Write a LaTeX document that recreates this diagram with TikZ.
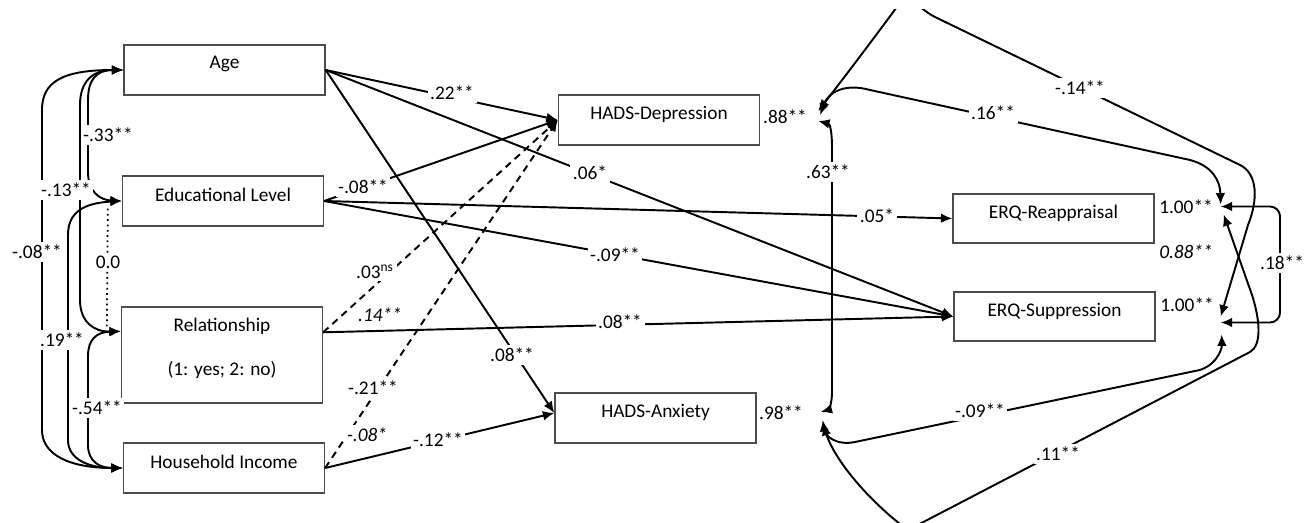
\documentclass[tikz,border=0pt]{standalone}
\usepackage{fontspec}
\setmainfont{Carlito}
\usetikzlibrary{arrows.meta,calc}
\begin{document}
\begin{tikzpicture}[x=0.02cm,y=-0.02cm,font=\fontsize{11}{13}\selectfont,
	>={Latex[length=6.5pt,width=5.5pt]},
	box/.style={draw=black!70,line width=0.8pt,minimum width=4.02cm,minimum height=#1,inner sep=0pt},
	box/.default=1cm,
	coef/.style={fill=white,inner sep=1.5pt},
	reg/.style={->,line width=1.1pt},
	cov/.style={<->,line width=1.1pt}]
	\useasboundingbox (0,0) rectangle (1310,523);
	\foreach \n/\x/\y/\h/\t in {Age/224.5/70/1cm/Age, Edu/223/201/1cm/Educational Level,
		Rel/222/355/1.92cm/Relationship, Inc/224/468/1cm/Household Income,
		Dep/659/120/1cm/HADS-Depression, Anx/655.5/418/1cm/HADS-Anxiety,
		Rea/1053.5/218.5/0.98cm/ERQ-Reappraisal, Sup/1054.5/316.5/0.98cm/ERQ-Suppression}{
		\node[box=\h] (\n) at (\x,\y) {};
		\node[inner sep=0pt] (\n_t) at ($(\n.north)+(0,20)$) {\t};
	}
	\node[inner sep=0pt] (Rel_t2) at ($(Rel.north)+(0,64)$) {(1: yes; 2: no)};
	\path ($(Rel.north west)+(0,25)$) coordinate (Rel_i)
		($(Rel.north east)+(0,26)$) coordinate (Rel_o)
		($(Anx.west)+(0,-5)$) coordinate (Anx_i)
		($(Dep.east)+(58,-3)$) coordinate (Dep_e)
		($(Anx.east)+(64,-2)$) coordinate (Anx_e)
		($(Rea.east)+(66,-12)$) coordinate (Rea_e)
		($(Sup.east)+(65,6)$) coordinate (Sup_e);
	\foreach \a/\b in {Age.east/Dep.west, Age.east/Sup.west, Age.east/Anx_i, Edu.east/Dep.west,
		Edu.east/Rea.west, Edu.east/Sup.west, Rel_o/Sup.west, Inc.east/Anx_i}
		\draw[reg] (\a) -- (\b);
	\foreach \a in {Rel_o, Inc.east}
		\draw[reg,dash pattern=on 4pt off 3pt] (\a) -- (Dep.west);
	\draw[cov] (Age.west) .. controls (96,70) and (88,80) .. (88,100) -- (88,172) .. controls (88,192) and (100,200) .. (Edu.west);
	\draw[cov] (Age.west) .. controls (92,70) and (80,82) .. (80,105) -- (80,300) .. controls (80,322) and (94,332) .. (Rel_i);
	\draw[cov] (Age.west) .. controls (62,70) and (42,82) .. (42,110) -- (42,430) .. controls (42,455) and (70,468) .. (Inc.west);
	\draw[cov] (Edu.west) .. controls (84,203) and (68,212) .. (68,235) -- (68,440) .. controls (68,460) and (90,468) .. (Inc.west);
	\draw[cov] (Rel_i) .. controls (96,332) and (88,340) .. (88,356) -- (88,445) .. controls (88,462) and (100,468) .. (Inc.west);
	\draw[dotted,line width=1pt] ($(Edu.south west)+(-14,-18)$) -- ($(Rel_i)+(-14,-4)$);
	\draw[cov] ($(Dep_e)+(0,4)$) .. controls (830,124) and (832,132) .. (832,147) -- (832,392) .. controls (832,405) and (828,410) .. ($(Anx_e)+(0,-4)$);
	\draw[cov] ($(Dep_e)+(2,-2)$) .. controls (828,92) and (845,83) .. (870,90) -- (1190,160) .. controls (1212,166) and (1220,180) .. ($(Rea_e)+(0,-2)$);
	\begin{scope}
		\clip (0,10) rectangle (1310,523);
		\draw[cov] ($(Dep_e)+(0,-6)$) .. controls (850,70) and (880,30) .. (902,0) .. controls (910,-10) and (915,7) .. (935,17) -- (1240,165) .. controls (1258,174) and (1258,200) .. (1248,225) -- ($(Sup_e)+(0,-6)$);
		\draw[cov] ($(Anx_e)+(2,8)$) .. controls (838,468) and (880,510) .. (908,530) -- (1250,352) .. controls (1262,345) and (1260,320) .. (1252,295) -- ($(Rea_e)+(3,8)$);
	\end{scope}
	\draw[cov] ($(Sup_e)+(1,12)$) .. controls (1222,350) and (1215,368) .. (1195,371) -- (855,442) .. controls (835,446) and (825,435) .. ($(Anx_e)+(2,4)$);
	\draw[cov,rounded corners=0.2cm] (Rea_e) -| (1280,263) |- (Sup_e);
	\foreach \x/\y/\t [count=\i] in {108/135/-.33**, 66/190/-.13**, 37/252/-.08**, 108/262/0.0,
		62/340/.19**, 97/408/-.54**, 452/93/.22**, 590/173/.06*, 363/187/-.08**, 877/216/.05*,
		615/255/-.09**, 375/272/{.03\textsuperscript{ns}}, 380/315/\textit{.14**}, 620/322/.08**,
		512/355/.08**, 373/388/-.21**, 367/435/\textit{-.08*}, 438/440/-.12**, 785/117/.88**,
		781/413/.98**, 828/172/.63**, 993/113/.16**, 1080/88/-.14**, 1186/207/1.00**,
		1186/252/\textit{0.88**}, 1187/305/1.00**, 1282/263/.18**, 980/411/-.09**, 1058/454/.11**}
		\node[coef] (c\i) at (\x,\y) {\t};
\end{tikzpicture}
\end{document}
